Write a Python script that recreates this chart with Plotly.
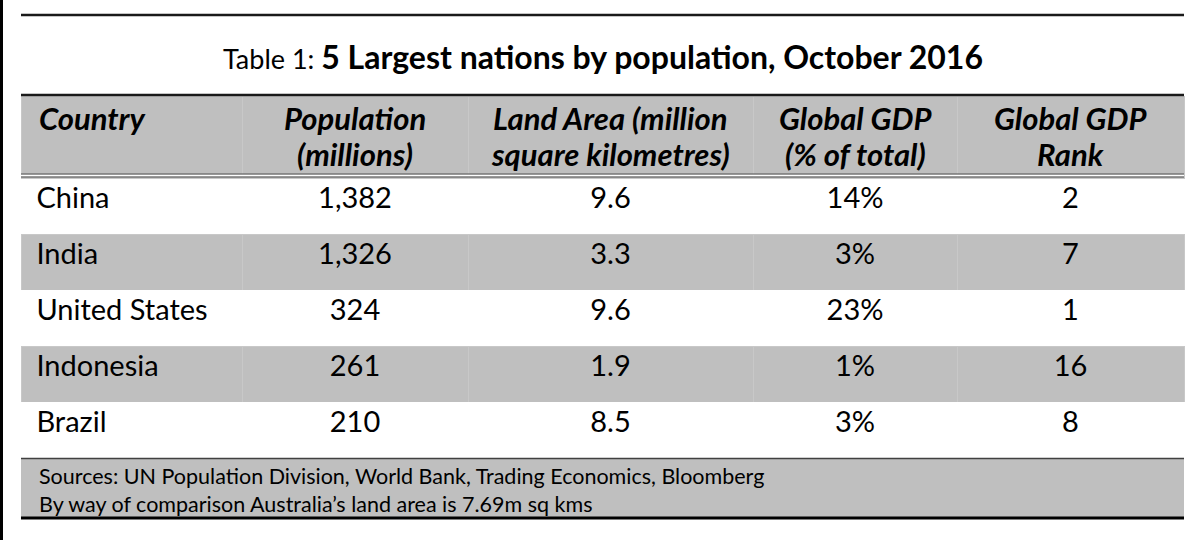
import plotly.graph_objects as go

# Table content
header_top = ["Country", "Population", "Land Area (million", "Global GDP", "Global GDP"]
header_bottom = ["", "(millions)", "square kilometres)", "(% of total)", "Rank"]
countries = ["China", "India", "United States", "Indonesia", "Brazil"]
population = ["1,382", "1,326", "324", "261", "210"]
land_area = ["9.6", "3.3", "9.6", "1.9", "8.5"]
gdp_share = ["14%", "3%", "23%", "1%", "3%"]
gdp_rank = ["2", "7", "1", "16", "8"]

title_prefix = "Table 1: "
title_main = "5 Largest nations by population, October 2016"
footnotes = ["Sources: UN Population Division, World Bank, Trading Economics, Bloomberg",
             "By way of comparison Australia\u2019s land area is 7.69m sq kms"]

W, H = 1200, 540
GREY = "#bfbfbf"
FONT = "Lato"
left, right = 21, 1184
col_w = [221, 226, 285, 204, 227]
head_top, head_h, row_h = 96, 82, 56


def px_x(v):
    return v / W


def px_y(v):
    return 1 - v / H


pad = "\u00a0"
columns = [[pad + c for c in countries], population, land_area, gdp_share, gdp_rank]
row_fill = ["white" if i % 2 == 0 else GREY for i in range(len(countries))]
row_line = ["white" if i % 2 == 0 else "#c8c8c8" for i in range(len(countries))]
aligns = ["left", "center", "center", "center", "center"]

fig = go.Figure(go.Table(
    domain=dict(x=[px_x(left), px_x(right)], y=[0, px_y(head_top)]),
    columnwidth=col_w,
    header=dict(
        values=[""] * len(col_w),
        fill_color=GREY,
        line=dict(color="#c8c8c8", width=1),
        height=head_h,
    ),
    cells=dict(
        values=columns,
        align=aligns,
        fill_color=[row_fill] * 5,
        line=dict(color=[row_line] * 5, width=1),
        font=dict(family=FONT, size=29, color="black"),
        height=row_h,
    ),
))

table_bottom = head_top + head_h + row_h * len(countries)

shapes = [
    # left frame edge
    dict(type="rect", xref="paper", yref="paper", x0=0, x1=px_x(3), y0=0, y1=1,
         fillcolor="black", line_width=0),
    # top rule
    dict(type="line", xref="paper", yref="paper", x0=px_x(left), x1=px_x(right),
         y0=px_y(15), y1=px_y(15), line=dict(color="#1a1a1a", width=2.5)),
    # header top rule
    dict(type="line", xref="paper", yref="paper", x0=px_x(left), x1=px_x(right),
         y0=px_y(head_top - 1), y1=px_y(head_top - 1), line=dict(color="#1a1a1a", width=2.5)),
    # header double rule
    dict(type="rect", xref="paper", yref="paper", x0=px_x(left), x1=px_x(right),
         y0=px_y(177.5), y1=px_y(173.5), fillcolor="white", line_width=0),
    dict(type="line", xref="paper", yref="paper", x0=px_x(left), x1=px_x(right),
         y0=px_y(174), y1=px_y(174), line=dict(color="#333333", width=1.2)),
    dict(type="line", xref="paper", yref="paper", x0=px_x(left), x1=px_x(right),
         y0=px_y(177), y1=px_y(177), line=dict(color="#333333", width=1.2)),
    # footer box
    dict(type="rect", xref="paper", yref="paper", x0=px_x(left), x1=px_x(right),
         y0=px_y(517), y1=px_y(table_bottom), fillcolor=GREY, line_width=0),
    dict(type="line", xref="paper", yref="paper", x0=px_x(left), x1=px_x(right),
         y0=px_y(table_bottom + 0.5), y1=px_y(table_bottom + 0.5), line=dict(color="#404040", width=1.5)),
    dict(type="line", xref="paper", yref="paper", x0=px_x(left), x1=px_x(right),
         y0=px_y(518), y1=px_y(518), line=dict(color="black", width=3)),
]

annotations = [
    dict(xref="paper", yref="paper", x=px_x(603), y=px_y(57), xanchor="center", yanchor="middle",
         showarrow=False,
         text=f"<span style='font-size:27px'>{title_prefix}</span><b>{title_main}</b>",
         font=dict(family=FONT, size=32, color="black")),
    dict(xref="paper", yref="paper", x=px_x(37), y=px_y(490), xanchor="left", yanchor="middle",
         showarrow=False, align="left", text="<br>".join(footnotes),
         font=dict(family=FONT, size=21.5, color="black")),
]

# header text, one annotation per line so the lines sit centred in each column
x_edge = left
for i, w in enumerate(col_w):
    if aligns[i] == "left":
        hx, anchor = x_edge + 16, "left"
    else:
        hx, anchor = x_edge + w / 2, "center"
    for text, ty in ((header_top[i], 118), (header_bottom[i], 154)):
        if text:
            annotations.append(dict(
                xref="paper", yref="paper", x=px_x(hx), y=px_y(ty),
                xanchor=anchor, yanchor="middle", showarrow=False,
                text=f"<b><i>{text}</i></b>",
                font=dict(family=FONT, size=31, color="black")))
    x_edge += w

fig.update_layout(
    width=W, height=H,
    margin=dict(l=0, r=0, t=0, b=0),
    paper_bgcolor="white", plot_bgcolor="white",
    shapes=shapes, annotations=annotations,
)

fig.write_html("out.html", config={"displayModeBar": False},
               post_script="document.body.style.margin='0';")
